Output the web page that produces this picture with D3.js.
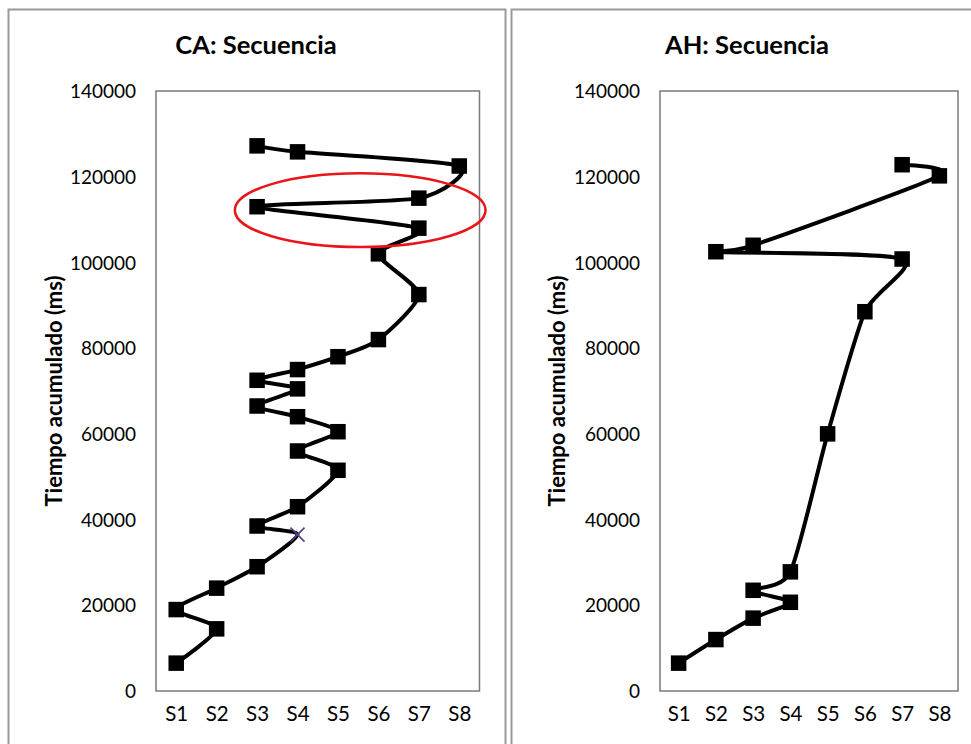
<!DOCTYPE html>
<html>
<head>
<meta charset="utf-8">
<script src="https://cdn.jsdelivr.net/npm/d3@7"></script>
<style>
  html, body { margin: 0; padding: 0; background: #fff; }
  svg { display: block; }
  text { font-family: Lato, "Open Sans", sans-serif; fill: #000; }
</style>
</head>
<body>
<svg id="chart" width="971" height="744"></svg>
<script>
// ---- data ----
const categories = ["S1", "S2", "S3", "S4", "S5", "S6", "S7", "S8"];
const yTicks = [0, 20000, 40000, 60000, 80000, 100000, 120000, 140000];

const caTitle = "CA: Secuencia";
const caStations = [1, 2, 1, 2, 3, 4, 3, 4, 5, 4, 5, 4, 3, 4, 3, 4, 5, 6, 7, 6, 7, 3, 7, 8, 4, 3];
const caTimes = [6500, 14500, 19000, 24000, 29000, 36500, 38500, 43000, 51500, 56000, 60500, 64000, 66500,
                 70500, 72500, 75000, 78000, 82000, 92500, 102000, 108000, 113000, 115000, 122500, 125800, 127200];
const caCrossIndex = [5];           // point drawn with an "x" marker instead of a square
const caHighlight = [5.55, 112200, 3.1, 8600]; // ellipse: centre station, centre time, x radius (stations), y radius (ms)

const ahTitle = "AH: Secuencia";
const ahStations = [1, 2, 3, 4, 3, 4, 5, 6, 7, 2, 3, 8, 7];
const ahTimes = [6500, 12000, 17000, 20700, 23500, 27800, 60000, 88500, 100800, 102500, 104000, 120200, 122800];

const yLabel = "Tiempo acumulado (ms)";

// ---- drawing ----
const svg = d3.select("#chart");

function panel(opts) {
  const g = svg.append("g");
  // outer frame
  g.append("rect")
    .attr("x", opts.frame[0]).attr("y", opts.frame[1])
    .attr("width", opts.frame[2]).attr("height", opts.frame[3])
    .attr("fill", "#fff").attr("stroke", "#9a9a9a").attr("stroke-width", 2);

  const x = d3.scaleLinear().domain([0.5, categories.length + 0.5]).range([opts.left, opts.right]);
  const y = d3.scaleLinear().domain([0, 140000]).range([opts.bottom, opts.top]);

  // plot area
  g.append("rect")
    .attr("x", opts.left).attr("y", opts.top)
    .attr("width", opts.right - opts.left).attr("height", opts.bottom - opts.top)
    .attr("fill", "none").attr("stroke", "#7a7a7a").attr("stroke-width", 1.5);

  // title
  g.append("text")
    .attr("x", opts.titleX).attr("y", 54)
    .attr("text-anchor", "middle")
    .attr("font-size", 25.5).attr("font-weight", "bold")
    .text(opts.title);

  // y axis
  const yAxis = d3.axisLeft(y).tickValues(yTicks).tickFormat(d3.format("d")).tickSize(0).tickPadding(0);
  const ya = g.append("g").attr("transform", `translate(${opts.left - 20},0)`).call(yAxis);
  ya.select(".domain").remove();
  ya.selectAll("text").attr("font-size", 19).attr("font-family", "Lato, sans-serif").attr("fill", "#000").attr("dy", "0.35em");

  // x axis
  const xAxis = d3.axisBottom(x).tickValues(d3.range(1, categories.length + 1))
    .tickFormat(i => categories[i - 1]).tickSize(0).tickPadding(0);
  const xa = g.append("g").attr("transform", `translate(0,${opts.bottom + 15})`).call(xAxis);
  xa.select(".domain").remove();
  xa.selectAll("text").attr("font-size", 20.5).attr("font-family", "Lato, sans-serif").attr("fill", "#000").attr("dy", "0.71em");

  // y label
  g.append("text")
    .attr("transform", `translate(${opts.yLabelX},${(opts.top + opts.bottom) / 2}) rotate(-90)`)
    .attr("text-anchor", "middle")
    .attr("dy", "0.35em")
    .attr("font-size", 22).attr("font-weight", "bold")
    .text(yLabel);

  const pts = opts.stations.map((s, i) => ({ s, t: opts.times[i], i }));

  // line (Excel-like mild smoothing)
  const line = d3.line().x(d => x(d.s)).y(d => y(d.t)).curve(d3.curveCardinal.tension(0.3));
  g.append("path").datum(pts)
    .attr("d", line)
    .attr("fill", "none").attr("stroke", "#000").attr("stroke-width", 4)
    .attr("stroke-linejoin", "round");

  // markers
  const cross = opts.cross || [];
  const sq = 15.5;
  g.selectAll("rect.m").data(pts.filter(d => !cross.includes(d.i)))
    .join("rect").attr("class", "m")
    .attr("x", d => x(d.s) - sq / 2).attr("y", d => y(d.t) - sq / 2)
    .attr("width", sq).attr("height", sq).attr("fill", "#000");

  const cx = 7;
  g.selectAll("path.x").data(pts.filter(d => cross.includes(d.i)))
    .join("path").attr("class", "x")
    .attr("d", d => `M${x(d.s) - cx},${y(d.t) - cx}L${x(d.s) + cx},${y(d.t) + cx}M${x(d.s) - cx},${y(d.t) + cx}L${x(d.s) + cx},${y(d.t) - cx}`)
    .attr("stroke", "#5b3f86").attr("stroke-width", 1.6).attr("fill", "none");

  if (opts.highlight) {
    const h = opts.highlight;
    g.append("ellipse")
      .attr("cx", x(h[0])).attr("cy", y(h[1]))
      .attr("rx", x(h[0] + h[2]) - x(h[0]))
      .attr("ry", y(h[1] - h[3]) - y(h[1]))
      .attr("fill", "none").attr("stroke", "#e8161b").attr("stroke-width", 2.5);
  }
}

panel({
  frame: [8.5, 9.5, 497, 800],
  left: 156, right: 479.5, top: 91, bottom: 691,
  titleX: 256, yLabelX: 54,
  title: caTitle, stations: caStations, times: caTimes,
  cross: caCrossIndex, highlight: caHighlight
});

panel({
  frame: [511.5, 9.5, 520, 800],
  left: 660, right: 958, top: 91, bottom: 691,
  titleX: 747, yLabelX: 557,
  title: ahTitle, stations: ahStations, times: ahTimes
});
</script>
</body>
</html>
